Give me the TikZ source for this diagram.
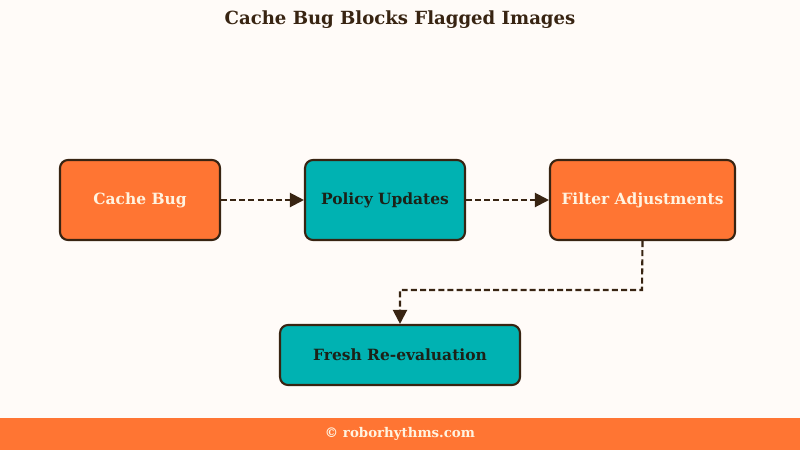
\documentclass[tikz,border=0pt]{standalone}
\usepackage{fontspec}
\setmainfont{DejaVu Serif}
\definecolor{robobg}{RGB}{255, 251, 248}
\definecolor{roboorange}{RGB}{255, 117, 51}
\definecolor{roboteal}{RGB}{0, 178, 178}
\definecolor{roboedge}{RGB}{56, 36, 18}
\definecolor{robocream}{RGB}{255, 243, 224}
\definecolor{robodark}{RGB}{28, 34, 24}
\usetikzlibrary{positioning, arrows.meta}

\begin{document}
\begin{tikzpicture}[x=0.02cm, y=-0.02cm,
    every node/.style={font=\bfseries},
    stagebox/.style={draw=roboedge, line width=1.2pt, rounded corners=0.16cm,
      minimum width=3.2cm, minimum height=1.6cm, font=\bfseries\fontsize{8.8}{10}\selectfont},
    hotbox/.style={stagebox, fill=roboorange, text=robocream},
    coolbox/.style={stagebox, fill=roboteal, text=robodark},
    flow/.style={draw=roboedge, line width=1.2pt, dashed, dash pattern=on 3.4pt off 1.8pt,
      -{Triangle[length=8pt, width=8pt]}}]
        % background and frame
        \fill[robobg] (0,0) rectangle (800,450);
        \useasboundingbox (0,0) rectangle (800,450);
        % Title
        \node[text=roboedge, font=\bfseries\fontsize{10.3}{12}\selectfont] (title) at (400,20) {Cache Bug Blocks Flagged Images};
        % stages in a row
        \node[hotbox] (cachebug) at (140,200) {Cache Bug};
        \node[coolbox] (policy) at (385,200) {Policy Updates};
        \node[hotbox, minimum width=3.7cm] (filter) at (642.5,200) {Filter Adjustments};
        % result below
        \node[coolbox, minimum width=4.8cm, minimum height=1.2cm] (fresh) at (400,355) {Fresh Re-evaluation};
        % connectors
        \draw[flow] (cachebug) -- (policy);
        \draw[flow] (policy) -- (filter);
        \coordinate (bend) at (642,290);
        \draw[flow] (filter.south) -- (bend) -- (bend -| fresh.north) -- (fresh.north);
        % Footer band
        \fill[roboorange] (0,418) rectangle (800,450);
        \node[text=robocream, font=\bfseries\fontsize{7.6}{9}\selectfont] (credit) at (400,434) {© roborhythms.com};
      \end{tikzpicture}
\end{document}
